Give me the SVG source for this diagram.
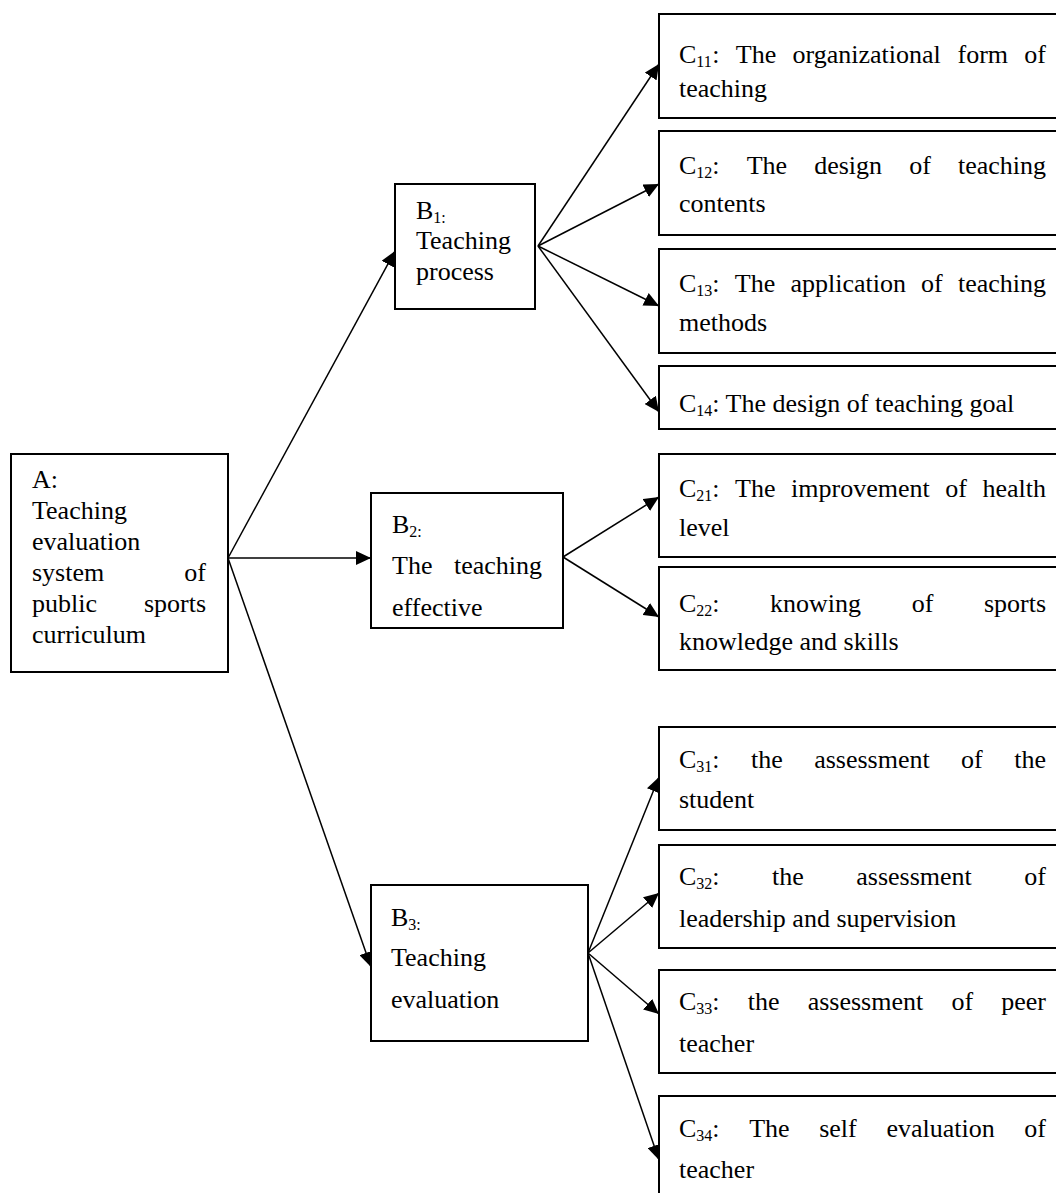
<svg xmlns="http://www.w3.org/2000/svg" width="1056" height="1193" viewBox="0 0 1056 1193">
<style>
.box{fill:#fff;stroke:#000;stroke-width:2}
text{font-family:"Liberation Serif","Times New Roman",serif;font-size:26px;fill:#000}
.sub{font-size:16px}
.con{stroke:#000;stroke-width:1.5;fill:none;marker-end:url(#arr)}
</style>
<defs>
<marker id="arr" markerUnits="userSpaceOnUse" markerWidth="16" markerHeight="14" refX="15" refY="7" orient="auto">
<path d="M0,0 L15,7 L0,14 z" fill="#000"/>
</marker>
</defs>
<rect width="1056" height="1193" fill="#fff"/>
<g id="connectors">
<line class="con" x1="228" y1="558" x2="395" y2="251"/>
<line class="con" x1="228" y1="558" x2="371" y2="558"/>
<line class="con" x1="228" y1="558" x2="371" y2="967"/>
<line class="con" x1="538" y1="246" x2="659" y2="64"/>
<line class="con" x1="538" y1="246" x2="659" y2="184"/>
<line class="con" x1="538" y1="246" x2="659" y2="306"/>
<line class="con" x1="538" y1="246" x2="659" y2="412"/>
<line class="con" x1="563" y1="557" x2="659" y2="497"/>
<line class="con" x1="563" y1="557" x2="659" y2="617"/>
<line class="con" x1="588" y1="953" x2="659" y2="777"/>
<line class="con" x1="588" y1="953" x2="659" y2="893"/>
<line class="con" x1="588" y1="953" x2="659" y2="1014"/>
<line class="con" x1="588" y1="953" x2="659" y2="1160"/>
</g>
<g id="A">
<rect class="box" x="11" y="454" width="217" height="218"/>
<text x="32" y="488">A:</text>
<text x="32" y="519">Teaching</text>
<text x="32" y="550">evaluation</text>
<text x="32" y="581">system</text><text x="206" y="581" text-anchor="end">of</text>
<text x="32" y="612">public</text><text x="206" y="612" text-anchor="end">sports</text>
<text x="32" y="643">curriculum</text>
</g>
<g id="B1">
<rect class="box" x="395" y="184" width="140" height="125"/>
<text x="416" y="219">B</text><text class="sub" x="433.3" y="223">1:</text>
<text x="416" y="249">Teaching</text>
<text x="416" y="280">process</text>
</g>
<g id="B2">
<rect class="box" x="371" y="493" width="192" height="135"/>
<text x="392" y="533">B</text><text class="sub" x="409.3" y="537">2:</text>
<text x="392" y="574">The</text><text x="542" y="574" text-anchor="end">teaching</text>
<text x="392" y="616">effective</text>
</g>
<g id="B3">
<rect class="box" x="371" y="885" width="217" height="156"/>
<text x="391" y="926">B</text><text class="sub" x="408.3" y="930">3:</text>
<text x="391" y="966">Teaching</text>
<text x="391" y="1008">evaluation</text>
</g>
<g id="C11">
<rect class="box" x="659" y="14" width="420" height="104"/>
<text x="679" y="63">C</text><text class="sub" x="696.3" y="67">11</text><text x="712.3" y="63">:</text>
<text x="735.8" y="63">The</text><text x="792.5" y="63">organizational</text><text x="957.5" y="63">form</text><text x="1046" y="63" text-anchor="end">of</text>
<text x="679" y="97">teaching</text>
</g>
<g id="C12">
<rect class="box" x="659" y="131" width="420" height="104"/>
<text x="679" y="174">C</text><text class="sub" x="696.3" y="178">12</text><text x="712.3" y="174">:</text>
<text x="746.7" y="174">The</text><text x="814.2" y="174">design</text><text x="909.2" y="174">of</text><text x="1046" y="174" text-anchor="end">teaching</text>
<text x="679" y="212">contents</text>
</g>
<g id="C13">
<rect class="box" x="659" y="249" width="420" height="104"/>
<text x="679" y="292">C</text><text class="sub" x="696.3" y="296">13</text><text x="712.3" y="292">:</text>
<text x="734.8" y="292">The</text><text x="790.4" y="292">application</text><text x="921.1" y="292">of</text><text x="1046" y="292" text-anchor="end">teaching</text>
<text x="679" y="331">methods</text>
</g>
<g id="C14">
<rect class="box" x="659" y="366" width="420" height="63"/>
<text x="679" y="412">C</text><text class="sub" x="696.3" y="416">14</text><text x="712.3" y="412">: The design of teaching goal</text>
</g>
<g id="C21">
<rect class="box" x="659" y="454" width="420" height="103"/>
<text x="679" y="497">C</text><text class="sub" x="696.3" y="501">21</text><text x="712.3" y="497">:</text>
<text x="735.1" y="497">The</text><text x="791.1" y="497">improvement</text><text x="945.3" y="497">of</text><text x="1046" y="497" text-anchor="end">health</text>
<text x="679" y="536">level</text>
</g>
<g id="C22">
<rect class="box" x="659" y="567" width="420" height="103"/>
<text x="679" y="612">C</text><text class="sub" x="696.3" y="616">22</text><text x="712.3" y="612">:</text>
<text x="770.1" y="612">knowing</text><text x="911.7" y="612">of</text><text x="1046" y="612" text-anchor="end">sports</text>
<text x="679" y="650">knowledge and skills</text>
</g>
<g id="C31">
<rect class="box" x="659" y="727" width="420" height="103"/>
<text x="679" y="768">C</text><text class="sub" x="696.3" y="772">31</text><text x="712.3" y="768">:</text>
<text x="751" y="768">the</text><text x="814.2" y="768">assessment</text><text x="961.1" y="768">of</text><text x="1046" y="768" text-anchor="end">the</text>
<text x="679" y="808">student</text>
</g>
<g id="C32">
<rect class="box" x="659" y="845" width="420" height="103"/>
<text x="679" y="885">C</text><text class="sub" x="696.3" y="889">32</text><text x="712.3" y="885">:</text>
<text x="772.1" y="885">the</text><text x="856.3" y="885">assessment</text><text x="1046" y="885" text-anchor="end">of</text>
<text x="679" y="927">leadership and supervision</text>
</g>
<g id="C33">
<rect class="box" x="659" y="970" width="420" height="103"/>
<text x="679" y="1010">C</text><text class="sub" x="696.3" y="1014">33</text><text x="712.3" y="1010">:</text>
<text x="747.8" y="1010">the</text><text x="807.7" y="1010">assessment</text><text x="951.4" y="1010">of</text><text x="1046" y="1010" text-anchor="end">peer</text>
<text x="679" y="1052">teacher</text>
</g>
<g id="C34">
<rect class="box" x="659" y="1096" width="420" height="120"/>
<text x="679" y="1137">C</text><text class="sub" x="696.3" y="1141">34</text><text x="712.3" y="1137">:</text>
<text x="749.2" y="1137">The</text><text x="819.2" y="1137">self</text><text x="886.4" y="1137">evaluation</text><text x="1046" y="1137" text-anchor="end">of</text>
<text x="679" y="1178">teacher</text>
</g>
</svg>
